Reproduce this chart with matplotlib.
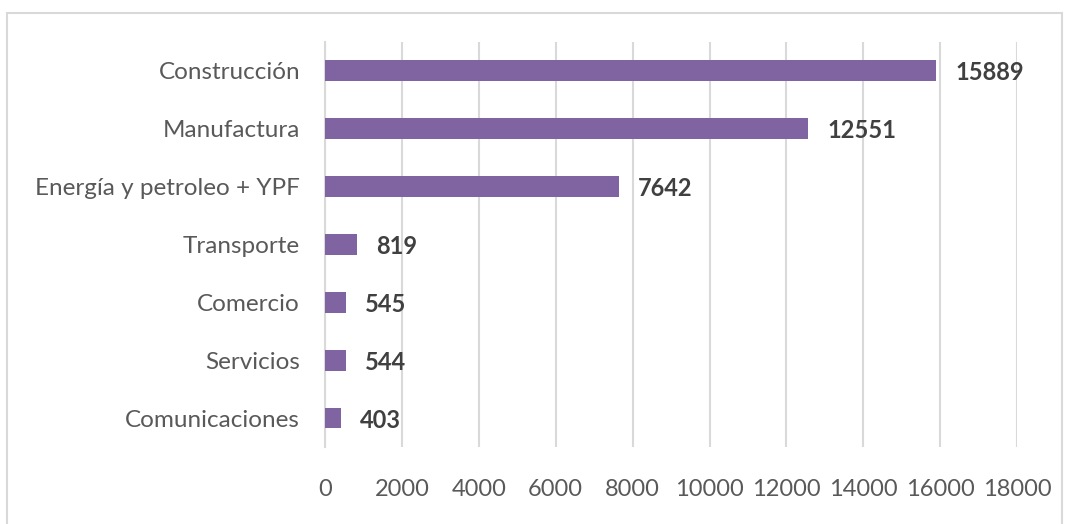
import matplotlib
matplotlib.use("Agg")
import matplotlib.pyplot as plt
from matplotlib.patches import Rectangle

categorias = ["Construcción", "Manufactura", "Energía y petroleo + YPF",
              "Transporte", "Comercio", "Servicios", "Comunicaciones"]
valores = [15889, 12551, 7642, 819, 545, 544, 403]
ticks_x = [0, 2000, 4000, 6000, 8000, 10000, 12000, 14000, 16000, 18000]

plt.rcParams["font.family"] = ["Lato", "DejaVu Sans"]

fig = plt.figure(figsize=(10.65, 5.24), dpi=100)
ax = fig.add_axes([0.3052, 0.147, 0.6498, 0.773])

# borde del grafico
fig.patches.append(Rectangle((7 / 1065, -0.05), 1055 / 1065, 1.05 - 13 / 524,
                             transform=fig.transFigure, fill=False,
                             edgecolor="#D9D9D9", linewidth=1.5))

y = list(range(len(categorias)))
ax.barh(y, valores, height=0.36, color="#8064A2", zorder=3)

for yi, v in zip(y, valores):
    ax.annotate(str(v), (v, yi), xytext=(14, -1.5), textcoords="offset points",
                va="center", ha="left", fontsize=17, fontweight="bold",
                color="#404040")

ax.set_yticks(y)
ax.set_yticklabels(categorias, fontsize=17.5, color="#595959")
ax.set_ylim(len(categorias) - 0.5, -0.5)
ax.set_xlim(0, 18000)
ax.set_xticks(ticks_x)
ax.set_xticklabels([str(t) for t in ticks_x], fontsize=17, color="#595959")
ax.tick_params(axis="both", length=0)
ax.tick_params(axis="x", pad=23)
ax.tick_params(axis="y", pad=18)

ax.grid(axis="x", color="#D9D9D9", linewidth=1.5, zorder=0)
for s in ["top", "right", "bottom"]:
    ax.spines[s].set_visible(False)
ax.spines["left"].set_color("#D9D9D9")
ax.spines["left"].set_linewidth(1.5)

fig.savefig("out.png", dpi=100)
